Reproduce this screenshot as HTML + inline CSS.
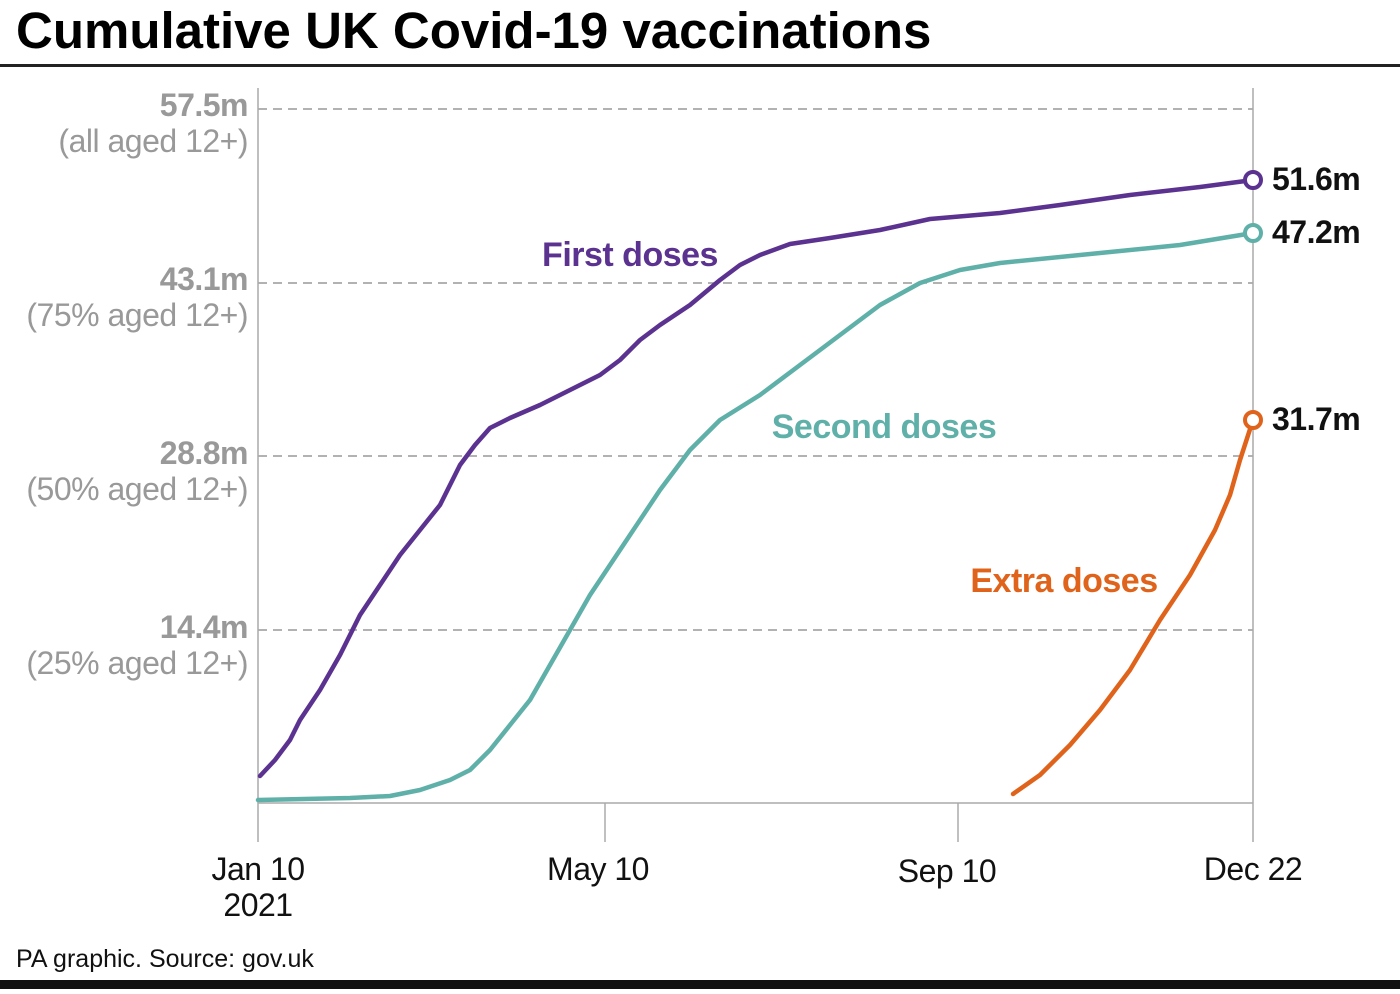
<!DOCTYPE html>
<html><head><meta charset="utf-8"><style>
html,body{margin:0;padding:0;background:#fff;}
body{width:1400px;height:989px;overflow:hidden;}
</style></head><body>
<svg width="1400" height="989" xmlns="http://www.w3.org/2000/svg" font-family="Liberation Sans, sans-serif">
<text x="16" y="48" font-size="51" font-weight="bold" fill="#000" letter-spacing="0">Cumulative UK Covid-19 vaccinations</text>
<rect x="0" y="64" width="1400" height="3" fill="#222"/>
<rect x="0" y="980" width="1400" height="9" fill="#111"/>
<g stroke="#999" stroke-width="1.5" stroke-dasharray="9,6">
<line x1="258" y1="109" x2="1253" y2="109"/>
<line x1="258" y1="283" x2="1253" y2="283"/>
<line x1="258" y1="456" x2="1253" y2="456"/>
<line x1="258" y1="630" x2="1253" y2="630"/>
</g>
<g stroke="#aaa" stroke-width="1.5">
<line x1="258" y1="88" x2="258" y2="842"/>
<line x1="1253" y1="88" x2="1253" y2="842"/>
<line x1="258" y1="803" x2="1253" y2="803"/>
<line x1="605" y1="803" x2="605" y2="842"/>
<line x1="958" y1="803" x2="958" y2="842"/>
</g>
<g font-size="32" fill="#999" text-anchor="end" letter-spacing="-0.5">
<text x="248" y="116" font-weight="bold">57.5m</text>
<text x="248" y="152">(all aged 12+)</text>
<text x="248" y="290" font-weight="bold">43.1m</text>
<text x="248" y="326">(75% aged 12+)</text>
<text x="248" y="464" font-weight="bold">28.8m</text>
<text x="248" y="500">(50% aged 12+)</text>
<text x="248" y="638" font-weight="bold">14.4m</text>
<text x="248" y="674">(25% aged 12+)</text>
</g>
<g font-size="32" fill="#111" text-anchor="middle" letter-spacing="-0.5">
<text x="258" y="880">Jan 10</text>
<text x="258" y="916">2021</text>
<text x="598" y="880">May 10</text>
<text x="947" y="882">Sep 10</text>
<text x="1253" y="880">Dec 22</text>
</g>
<text x="16" y="967" font-size="25" fill="#111" letter-spacing="0">PA graphic. Source: gov.uk</text>
<g fill="none" stroke-width="4.5" stroke-linejoin="round" stroke-linecap="round">
<polyline stroke="#5b3290" points="260,776 275,760 290,740 300,720 320,690 340,655 360,615 380,585 400,555 420,530 440,505 460,465 475,445 490,428 510,418 540,405 570,390 600,375 620,360 640,340 660,325 690,305 720,280 740,265 760,255 790,244 830,238 880,230 930,219 1000,213 1060,205 1130,195 1200,187 1253,180"/>
<polyline stroke="#5fb0a8" points="258,800 350,798 390,796 420,790 450,780 470,770 490,750 510,725 530,700 550,665 570,630 590,595 610,565 630,535 660,490 690,450 720,420 760,395 800,365 840,335 880,305 920,283 960,270 1000,263 1100,253 1180,245 1253,233"/>
<polyline stroke="#e0631b" points="1013,794 1040,775 1070,745 1100,710 1130,670 1160,620 1190,575 1215,530 1230,495 1240,460 1253,420"/>
</g>
<circle cx="1253" cy="180" r="8" fill="#fff" stroke="#5b3290" stroke-width="4"/>
<circle cx="1253" cy="233" r="8" fill="#fff" stroke="#5fb0a8" stroke-width="4"/>
<circle cx="1253" cy="420" r="8" fill="#fff" stroke="#e0631b" stroke-width="4"/>
<g font-size="32" font-weight="bold" fill="#111" letter-spacing="-0.5">
<text x="1272" y="190">51.6m</text>
<text x="1272" y="243">47.2m</text>
<text x="1272" y="430">31.7m</text>
</g>
<g font-size="34" font-weight="bold" letter-spacing="-0.5" text-anchor="middle">
<text x="630" y="266" fill="#5b3290">First doses</text>
<text x="884" y="438" fill="#5fb0a8">Second doses</text>
<text x="1064" y="592" fill="#e0631b">Extra doses</text>
</g>
</svg>
</body></html>
